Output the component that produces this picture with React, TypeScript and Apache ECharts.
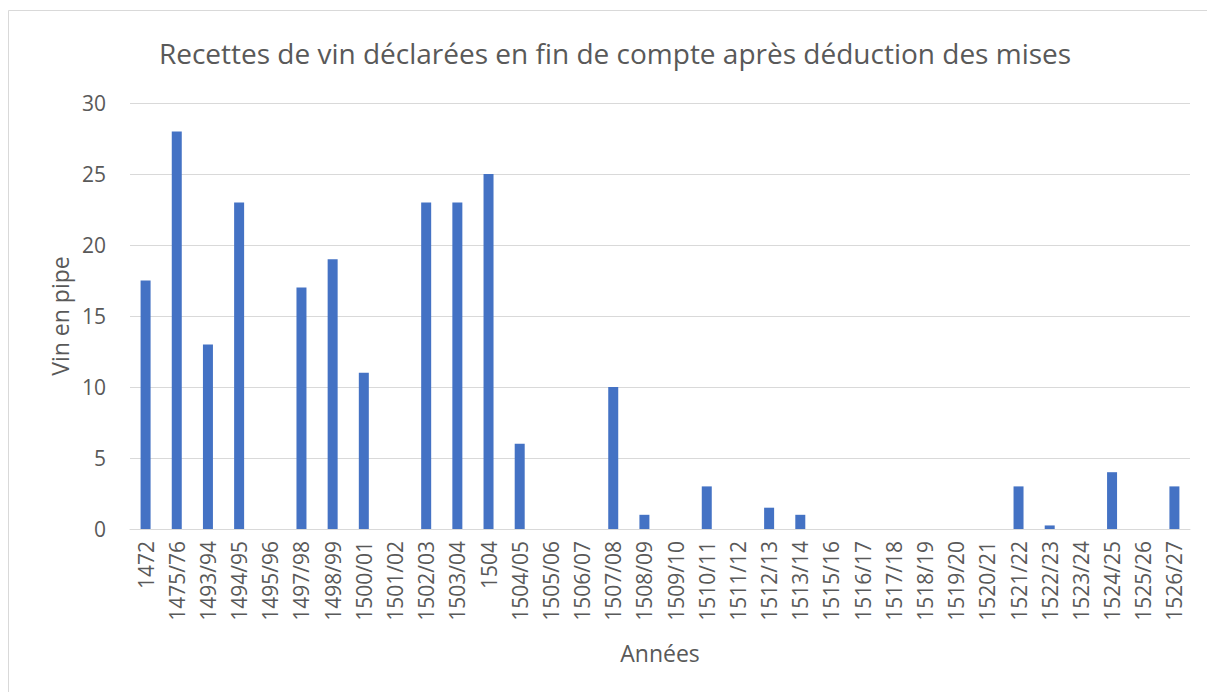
import React, { useEffect, useRef } from "react";
import * as echarts from "echarts";

const categories = [
  "1472", "1475/76", "1493/94", "1494/95", "1495/96", "1497/98", "1498/99", "1500/01",
  "1501/02", "1502/03", "1503/04", "1504", "1504/05", "1505/06", "1506/07", "1507/08",
  "1508/09", "1509/10", "1510/11", "1511/12", "1512/13", "1513/14", "1515/16", "1516/17",
  "1517/18", "1518/19", "1519/20", "1520/21", "1521/22", "1522/23", "1523/24", "1524/25",
  "1525/26", "1526/27",
];
const values = [
  17.5, 28, 13, 23, 0, 17, 19, 11,
  0, 23, 23, 25, 6, 0, 0, 10,
  1, 0, 3, 0, 1.5, 1, 0, 0,
  0, 0, 0, 0, 3, 0.25, 0, 4,
  0, 3,
];
const titleText = "Recettes de vin déclarées en fin de compte après déduction des mises";
const yAxisTitle = "Vin en pipe";
const xAxisTitle = "Années";

const FONT = "'Open Sans', 'Noto Sans', sans-serif";
const TXT = "#595959";

export default function App() {
  const ref = useRef<HTMLDivElement>(null);
  useEffect(() => {
    if (!ref.current) return;
    const chart = echarts.init(ref.current, null, { renderer: "svg" });
    chart.setOption({
      animation: false,
      backgroundColor: "#ffffff",
      textStyle: { fontFamily: FONT },
      grid: { left: 130, right: 17, top: 103, bottom: 163 },
      graphic: [
        {
          type: "rect",
          shape: { x: 8.5, y: 10.5, width: 1300, height: 800 },
          style: { fill: "none", stroke: "#d9d9d9", lineWidth: 1 },
          silent: true,
        },
        {
          type: "text",
          x: 615,
          y: 53,
          style: {
            text: titleText,
            fill: TXT,
            font: `28px ${FONT}`,
            align: "center",
            verticalAlign: "middle",
          },
        },
      ],
      xAxis: {
        type: "category",
        data: categories,
        name: xAxisTitle,
        nameLocation: "middle",
        nameGap: 112,
        nameTextStyle: { color: TXT, fontSize: 23, fontFamily: FONT },
        axisLine: { lineStyle: { color: "#d9d9d9", width: 1 } },
        axisTick: { show: false },
        axisLabel: { rotate: 90, color: TXT, fontSize: 21, fontFamily: FONT, margin: 12, interval: 0 },
      },
      yAxis: {
        type: "value",
        min: 0,
        max: 30,
        interval: 5,
        name: yAxisTitle,
        nameLocation: "middle",
        nameGap: 56,
        nameTextStyle: { color: TXT, fontSize: 23, fontFamily: FONT },
        axisLine: { show: false },
        axisTick: { show: false },
        axisLabel: { color: TXT, fontSize: 21, fontFamily: FONT, margin: 24 },
        splitLine: { lineStyle: { color: "#d9d9d9", width: 1 } },
      },
      series: [
        {
          type: "bar",
          data: values,
          barWidth: 10,
          itemStyle: { color: "#4472c4" },
        },
      ],
    });
    return () => chart.dispose();
  }, []);
  return (
    <div
      ref={ref}
      style={{ position: "absolute", left: 0, top: 0, width: 1207, height: 692 }}
    />
  );
}
